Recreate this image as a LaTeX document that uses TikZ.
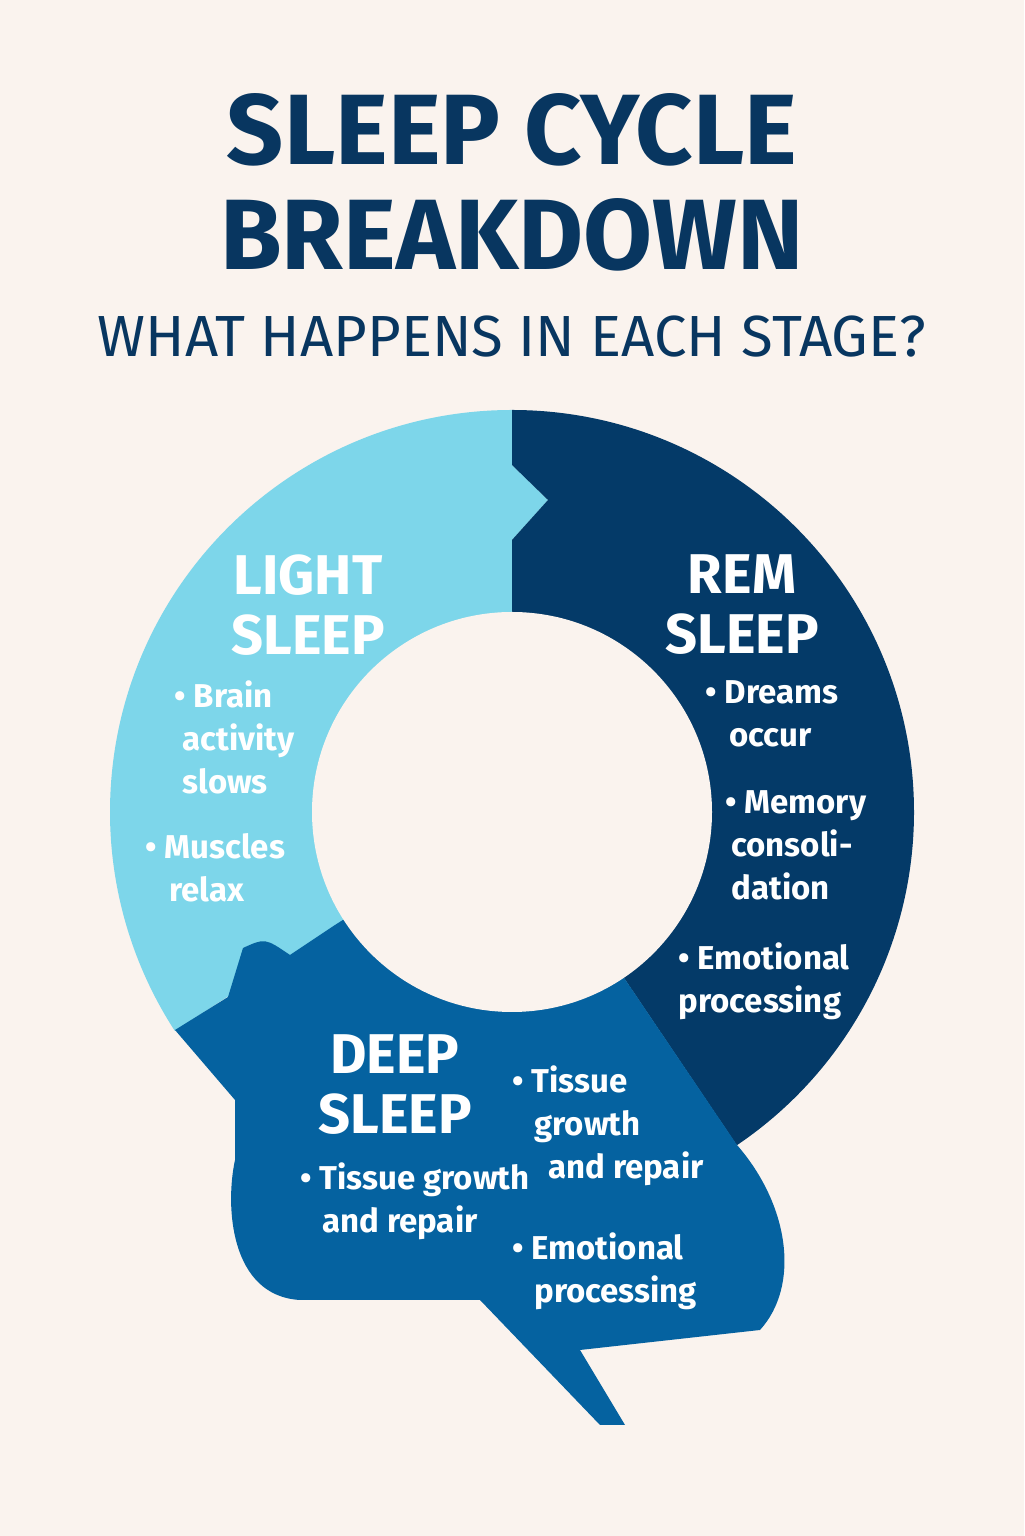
\documentclass[tikz,border=0pt]{standalone}
\usepackage{fontspec}
\setmainfont{Fira Sans}
\usepackage{tikz}
\definecolor{paper}{RGB}{250,243,238}
\definecolor{navy}{RGB}{8,54,96}
\definecolor{lightblue}{RGB}{125,214,234}
\definecolor{remblue}{RGB}{4,58,104}
\definecolor{deepblue}{RGB}{5,98,160}
\tikzstyle{heading} = [
	text=white,
	font=\fontsize{28}{30}\selectfont\bfseries,
	align=center,
	inner sep=0pt
]
\tikzstyle{bullets} = [
	text=white,
	font=\fontsize{16.5}{21.5}\selectfont\bfseries,
	align=left,
	anchor=north west,
	inner sep=0pt
]
\begin{document}
\begin{tikzpicture}[x=0.5pt, y=0.5pt]
		% Background
		\fill [paper] (0,0) rectangle (1024,1536);
		\useasboundingbox (0,0) rectangle (1024,1536);

		% Title
		\node [navy, font=\fontsize{50}{54}\selectfont\bfseries] (title1) at (512,1406) {SLEEP CYCLE};
		\node [navy, font=\fontsize{50}{54}\selectfont\bfseries] (title2) at (512,1301) {BREAKDOWN};
		\node [navy, font=\fontsize{29}{32}\selectfont] (subtitle) at (512,1199) {WHAT HAPPENS IN EACH STAGE?};

		% Ring segments
		\coordinate (centre) at (512,724);
		\fill [lightblue] (centre) -- (512,996) -- (548,1036) -- (512,1071) -- (512,1126)
			arc [start angle=90, end angle=213, radius=402] -- cycle;
		\fill [remblue] (centre) -- (512,996) -- (548,1036) -- (512,1071) -- (512,1126)
			arc [start angle=90, end angle=-56, radius=402] -- cycle;
		\fill [deepblue] (175,506) -- (228,539) -- (243,588) .. controls (265,598) .. (290,581) -- (335,611)
			-- (centre) -- (737,391) .. controls (790,330) and (800,250) .. (760,206)
			-- (580,186) -- (625,111) -- (600,111) -- (480,236) -- (300,236)
			.. controls (230,240) and (225,330) .. (235,376) -- (235,436) -- cycle;
		\fill [paper] (centre) circle [radius=200];

		% Light sleep
		\node [heading] (light) at (308,931) {LIGHT\\SLEEP};
		\node [bullets] (light1) at (174,856) {• Brain\\\hspace{4pt}activity\\\hspace{4pt}slows};
		\node [bullets] (light2) at (145,703) {• Muscles\\\hspace{12pt}relax};

		% REM sleep
		\node [heading] (rem) at (742,931) {REM\\SLEEP};
		\node [bullets] (rem1) at (705,856) {• Dreams\\\hspace{12pt}occur};
		\node [bullets] (rem2) at (725,746) {• Memory\\\hspace{3pt}consoli-\\\hspace{3pt}dation};
		\node [bullets] (rem3) at (678,594) {• Emotional\\processing};

		% Deep sleep
		\node [bullets] (deep1) at (512,471) {• Tissue\\\hspace{11pt}growth\\\hspace{18pt}and repair};
		\node [heading] (deep) at (395,451) {DEEP\\SLEEP};
		\node [bullets] (deep2) at (300,374) {• Tissue growth\\\hspace{11pt}and repair};
		\node [bullets] (deep3) at (512,304) {• Emotional\\\hspace{11pt}processing};
	\end{tikzpicture}
\end{document}
